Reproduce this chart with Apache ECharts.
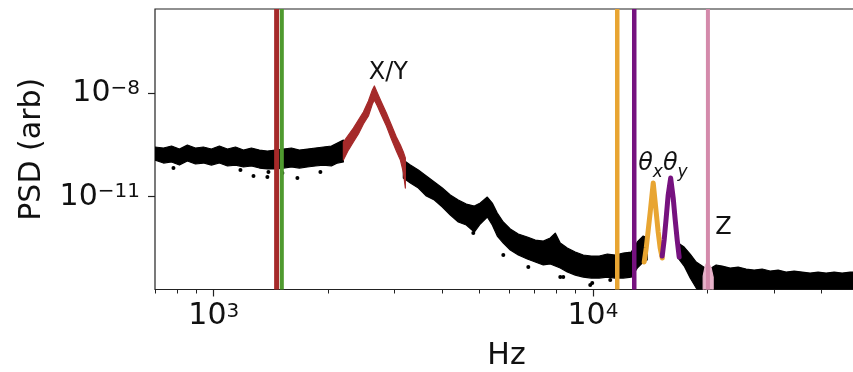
<!DOCTYPE html>
<html>
<head>
<meta charset="utf-8">
<script src="https://cdn.jsdelivr.net/npm/echarts@6/dist/echarts.min.js"></script>
<style>
  html, body { margin: 0; padding: 0; background: #fff; }
  #chart { width: 853px; height: 372px; }
</style>
</head>
<body>
<div id="chart"></div>
<script>
// Power spectral density of the trapped particle's motion.
// Each band is the spread of the measured points: upper and lower edge per frequency.

// broadband floor below the X/Y resonance
const lowFreq   = [700, 737, 774, 812, 852, 895, 939, 986, 1035, 1087, 1141, 1198, 1257, 1320, 1385, 1454, 1527, 1603, 1682, 1766, 1854, 1946, 2043, 2119, 2197];
const lowTop    = [2.77e-10, 2.59e-10, 2.96e-10, 2.42e-10, 3.16e-10, 2.59e-10, 2.77e-10, 2.42e-10, 2.96e-10, 2.42e-10, 2.77e-10, 2.26e-10, 2.59e-10, 2.26e-10, 2.12e-10, 2.26e-10, 2.42e-10, 2.59e-10, 2.26e-10, 2.42e-10, 2.59e-10, 2.77e-10, 2.96e-10, 3.61e-10, 4.42e-10];
const lowBottom = [1.16e-10, 9.5e-11, 1.02e-10, 8.3e-11, 1.09e-10, 8.9e-11, 9.5e-11, 8.3e-11, 9.5e-11, 7.8e-11, 8.3e-11, 7.3e-11, 7.8e-11, 6.8e-11, 6.4e-11, 6.4e-11, 6.8e-11, 7.3e-11, 6.8e-11, 7.3e-11, 7.8e-11, 8.3e-11, 7.8e-11, 9.5e-11, 1.02e-10];

// X/Y resonance
const xyFreq   = [2197, 2265, 2335, 2407, 2481, 2558, 2620, 2652, 2701, 2767, 2853, 2941, 3031, 3106, 3162, 3201];
const xyTop    = [3.87e-10, 6.17e-10, 9.85e-10, 1.68e-9, 2.87e-9, 5.98e-9, 1.25e-8, 1.63e-8, 1.02e-8, 5.59e-9, 2.68e-9, 1.20e-9, 5.40e-10, 3.16e-10, 1.98e-10, 1.33e-10];
const xyBottom = [1.16e-10, 2.26e-10, 3.87e-10, 6.60e-10, 1.29e-9, 2.20e-9, 4.89e-9, 6.39e-9, 4.28e-9, 2.35e-9, 1.12e-9, 4.72e-10, 2.12e-10, 1.16e-10, 5.21e-11, 1.79e-11];

// roll-off between the X/Y and the rotational resonances
const midFreq   = [3162, 3300, 3464, 3636, 3817, 4007, 4206, 4415, 4635, 4865, 5045, 5265, 5427, 5594, 5802, 6054, 6355, 6713, 7046, 7396, 7717, 7955, 8200, 8556, 8982, 9429, 9897, 10390, 10910, 11450, 12020, 12620, 13090, 13570, 13900];
const midTop    = [1.16e-10, 8.32e-11, 5.96e-11, 3.99e-11, 2.67e-11, 1.79e-11, 1.12e-11, 8.03e-12, 6.14e-12, 5.38e-12, 6.57e-12, 9.81e-12, 6.57e-12, 3.37e-12, 1.85e-12, 1.16e-12, 8.28e-13, 6.78e-13, 5.55e-13, 5.19e-13, 6.34e-13, 8.85e-13, 4.54e-13, 3.25e-13, 2.49e-13, 2.04e-13, 1.91e-13, 1.91e-13, 2.18e-13, 2.04e-13, 2.33e-13, 2.49e-13, 4.86e-13, 7.25e-13, 6.34e-13];
const midBottom = [3.49e-11, 2.50e-11, 1.79e-11, 1.05e-11, 8.03e-12, 5.03e-12, 2.95e-12, 1.85e-12, 1.51e-12, 9.47e-13, 1.62e-12, 2.58e-12, 1.51e-12, 7.25e-13, 4.54e-13, 2.84e-13, 2.04e-13, 1.56e-13, 1.28e-13, 1.05e-13, 1.12e-13, 9.77e-14, 8.55e-14, 6.54e-14, 5.35e-14, 4.68e-14, 4.38e-14, 4.38e-14, 4.68e-14, 4.38e-14, 4.38e-14, 4.68e-14, 8.55e-14, 1.28e-13, 1.46e-13];

// rotational resonances
const thetaXFreq = [13650, 13820, 13990, 14160, 14420, 14680, 14860, 15040, 15230];
const thetaXPsd  = [1.28e-13, 3.25e-13, 1.08e-12, 3.60e-12, 2.50e-11, 3.60e-12, 9.47e-13, 3.25e-13, 1.67e-13];
const thetaYFreq = [15230, 15410, 15600, 15790, 16030, 16280, 16480, 16680, 16880];
const thetaYPsd  = [1.91e-13, 5.55e-13, 2.41e-12, 1.12e-11, 3.49e-11, 9.17e-12, 2.11e-12, 5.55e-13, 1.78e-13];

// detector floor above the rotational resonances (spread runs past the lower axis limit)
const highFreq   = [16780, 17400, 18050, 18720, 19410, 19770, 20500, 21130, 21920, 23010, 24150, 25350, 26620, 27940, 29330, 30790, 32320, 33930, 35620, 37390, 39250, 41200, 43260, 45410, 47670, 50000];
const highTop    = [4.54e-13, 3.47e-13, 2.18e-13, 1.28e-13, 9.77e-14, 8.55e-14, 8.55e-14, 1.05e-13, 9.77e-14, 8.55e-14, 9.14e-14, 8.0e-14, 7.48e-14, 8.0e-14, 7.0e-14, 7.48e-14, 6.54e-14, 7.0e-14, 6.54e-14, 6.12e-14, 6.54e-14, 6.12e-14, 6.54e-14, 6.12e-14, 6.54e-14, 6.54e-14];
const highBottom = [1.67e-13, 9.77e-14, 4.38e-14, 2.25e-14, 1.5e-14, 1.5e-14, 1.5e-14, 1.5e-14, 1.5e-14, 1.5e-14, 1.5e-14, 1.5e-14, 1.5e-14, 1.5e-14, 1.5e-14, 1.5e-14, 1.5e-14, 1.5e-14, 1.5e-14, 1.5e-14, 1.5e-14, 1.5e-14, 1.5e-14, 1.5e-14, 1.5e-14, 1.5e-14];

// Z resonance
const zFreq   = [19530, 19770, 20010, 20250, 20500, 20750];
const zTop    = [5.01e-14, 9.77e-14, 1.28e-13, 1.12e-13, 8.55e-14, 4.68e-14];
const zBottom = [1.5e-14, 1.5e-14, 1.5e-14, 1.5e-14, 1.5e-14, 1.5e-14];

// isolated points below the main spread
const strayFreq = [783, 1176, 1273, 1385, 1394, 1517, 1662, 1911, 4836, 5802, 6754, 8200, 8351, 9837, 9958, 11107];
const strayPsd  = [6.81e-11, 5.96e-11, 3.99e-11, 3.73e-11, 5.21e-11, 4.87e-11, 3.49e-11, 5.21e-11, 8.85e-13, 2.04e-13, 9.14e-14, 4.68e-14, 4.68e-14, 2.75e-14, 3.14e-14, 3.83e-14];

// predicted mode frequencies (vertical markers)
const modeFreq = [1465, 1512, 11590, 12850, 20100];

// text labels on the resonances
const noteText = ['X/Y', '{t|θ}{s|x}{t|θ}{s|y}', 'Z'];
const noteFreq = [2888, 13160, 21000];
const notePsd  = [1.74e-8, 3.49e-11, 5.55e-13];

// tick positions
const majorX = [1000, 10000];
const minorX = [700, 800, 900, 2000, 3000, 4000, 5000, 6000, 7000, 8000, 9000, 20000, 30000, 40000];
const majorY = [1e-8, 1e-11];

// ---- styling and layout ----
const xMin = 700, xMax = 50000;
const yMin = 2.04e-14, yMax = 2.79e-6;
const FONT = '"DejaVu Sans", "Liberation Sans", sans-serif';
const INK = '#111';
const modeColors = ['#a52a2a', '#4f9a2f', '#e8a532', '#76127f', '#d48aab'];
const modeWidths = [5, 4, 4.5, 4.5, 4];
const noteAlign = ['center', 'left', 'left'];

function powerLabel(v) {
  const e = Math.round(Math.log10(v));
  return '{b|10}{s|' + String(e).replace('-', '\u2212') + '}';
}
const powerRich = {
  b: { fontSize: 30, fontFamily: FONT, color: INK, lineHeight: 30, verticalAlign: 'bottom' },
  s: { fontSize: 20, fontFamily: FONT, color: INK, lineHeight: 16, verticalAlign: 'top' }
};

function band(freq, top, bottom, color, z) {
  return {
    type: 'custom',
    coordinateSystem: 'cartesian2d',
    clip: true,
    silent: true,
    z: z,
    data: freq.map((f, i) => [f, top[i], bottom[i]]),
    encode: { x: 0, y: [1, 2] },
    renderItem: function (params, api) {
      if (params.dataIndex !== 0) return null;
      const upper = freq.map((f, i) => api.coord([f, top[i]]));
      const lower = freq.map((f, i) => api.coord([f, bottom[i]])).reverse();
      return {
        type: 'polygon',
        shape: { points: upper.concat(lower) },
        style: { fill: color, stroke: color, lineWidth: 1.2, lineJoin: 'round' }
      };
    }
  };
}

function peakLine(freq, psd, color) {
  return {
    type: 'line',
    data: freq.map((f, i) => [f, psd[i]]),
    showSymbol: false,
    silent: true,
    z: 5,
    lineStyle: { color: color, width: 5, join: 'round', cap: 'round' }
  };
}

const chart = echarts.init(document.getElementById('chart'), null, { renderer: 'canvas' });

const option = {
  animation: false,
  backgroundColor: '#fff',
  grid: {
    left: 155, top: 9, right: -5, bottom: 82.5,
    show: true, borderColor: '#222', borderWidth: 1.2,
    containLabel: false, outerBoundsMode: 'none'
  },
  xAxis: [
    {
      type: 'log', logBase: 10, min: xMin, max: xMax, position: 'bottom',
      axisLine: { show: false },
      splitLine: { show: false },
      axisTick: { show: true, customValues: majorX, length: 7, lineStyle: { color: '#222', width: 1.2 } },
      axisLabel: { customValues: majorX, formatter: powerLabel, rich: powerRich, margin: 12 },
      name: 'Hz', nameLocation: 'middle', nameGap: 52,
      nameTextStyle: { fontSize: 30, fontFamily: FONT, color: INK }
    },
    {
      type: 'log', logBase: 10, min: xMin, max: xMax, position: 'bottom',
      axisLine: { show: false },
      splitLine: { show: false },
      axisTick: { show: true, customValues: minorX, length: 4, lineStyle: { color: '#222', width: 1 } },
      axisLabel: { show: false }
    }
  ],
  yAxis: {
    type: 'log', logBase: 10, min: yMin, max: yMax,
    axisLine: { show: false },
    splitLine: { show: false },
    axisTick: { show: true, customValues: majorY, length: 7, lineStyle: { color: '#222', width: 1.2 } },
    axisLabel: { customValues: majorY, formatter: powerLabel, rich: powerRich, margin: 15 },
    name: 'PSD (arb)', nameLocation: 'middle', nameGap: 108, nameRotate: 90,
    nameTextStyle: { fontSize: 30, fontFamily: FONT, color: INK }
  },
  series: [
    band(lowFreq, lowTop, lowBottom, '#000', 2),
    band(midFreq, midTop, midBottom, '#000', 2),
    band(highFreq, highTop, highBottom, '#000', 2),
    {
      type: 'scatter',
      data: strayFreq.map((f, i) => [f, strayPsd[i]]),
      symbolSize: 4,
      itemStyle: { color: '#000', opacity: 1 },
      silent: true,
      z: 2
    },
    band(xyFreq, xyTop, xyBottom, '#a52a2a', 4),
    band(zFreq, zTop, zBottom, '#e8b2ca', 4),
    peakLine(thetaXFreq, thetaXPsd, '#e8a532'),
    peakLine(thetaYFreq, thetaYPsd, '#76127f'),
    {
      // vertical mode markers spanning the full plot height
      type: 'custom',
      coordinateSystem: 'cartesian2d',
      silent: true,
      z: 8,
      data: modeFreq.map(f => [f, yMax]),
      encode: { x: 0, y: 1 },
      renderItem: function (params, api) {
        const x = api.coord([api.value(0), api.value(1)])[0];
        const cs = params.coordSys;
        return {
          type: 'line',
          shape: { x1: x, y1: cs.y, x2: x, y2: cs.y + cs.height },
          style: { stroke: modeColors[params.dataIndex], lineWidth: modeWidths[params.dataIndex] }
        };
      }
    },
    {
      // resonance names
      type: 'custom',
      coordinateSystem: 'cartesian2d',
      silent: true,
      z: 12,
      data: noteFreq.map((f, i) => [f, notePsd[i]]),
      encode: { x: 0, y: 1 },
      renderItem: function (params, api) {
        const p = api.coord([api.value(0), api.value(1)]);
        const i = params.dataIndex;
        return {
          type: 'text',
          x: p[0], y: p[1],
          style: {
            text: noteText[i],
            font: '24px ' + FONT,
            fill: INK,
            align: noteAlign[i],
            verticalAlign: 'bottom',
            rich: {
              t: { fontSize: 24, fontFamily: FONT, fontStyle: 'italic', color: INK, lineHeight: 26, verticalAlign: 'top' },
              s: { fontSize: 17, fontFamily: FONT, fontStyle: 'italic', color: INK, lineHeight: 17, padding: [12, 0, 0, 0], verticalAlign: 'top' }
            }
          }
        };
      }
    }
  ]
};

chart.setOption(option);
</script>
</body>
</html>
